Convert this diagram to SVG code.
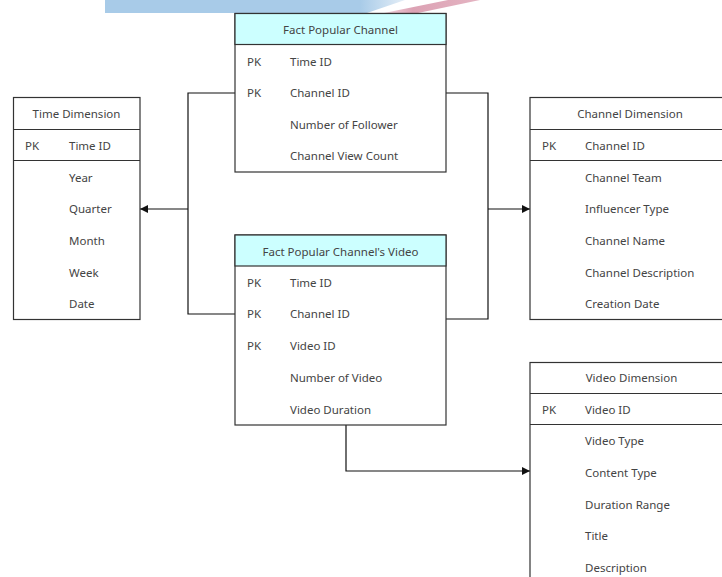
<svg xmlns="http://www.w3.org/2000/svg" width="722" height="577" viewBox="0 0 722 577">
<defs>
<style>
.box{fill:#fff;stroke:#333;stroke-width:1.2}
.hdr{fill:#ccffff;stroke:#333;stroke-width:1.2}
.ln{stroke:#333;stroke-width:1.2;fill:none}
text{font-family:"Noto Sans","DejaVu Sans",sans-serif;font-size:11.5px;fill:#444}
.c{text-anchor:middle}
.con{stroke:#111;stroke-width:1.2;fill:none}
</style>
<marker id="arr" viewBox="0 0 10 10" refX="10" refY="5" markerWidth="8" markerHeight="8" markerUnits="userSpaceOnUse" orient="auto">
<path d="M0,0 L10,5 L0,10 z" fill="#111"/>
</marker>
<linearGradient id="bg" x1="0" y1="0" x2="1" y2="0">
<stop offset="0" stop-color="#a8cbe8"/>
<stop offset="0.85" stop-color="#a8cbe8"/>
<stop offset="1" stop-color="#e4eef7"/>
</linearGradient>
<linearGradient id="pg" x1="0" y1="0" x2="1" y2="0">
<stop offset="0" stop-color="#f2d6df"/>
<stop offset="0.3" stop-color="#dca2b4"/>
<stop offset="1" stop-color="#e4b4c2"/>
</linearGradient>
</defs>
<g id="banner">
<polygon points="105,0 405,0 367,13 105,13" fill="url(#bg)"/>
<polygon points="448,0 480,0 418,13 384,13" fill="url(#pg)"/>
</g>
<g id="connectors">
<polyline class="con" points="235,93 188,93 188,314 235,314"/>
<line class="con" x1="188" y1="209" x2="140" y2="209" marker-end="url(#arr)"/>
<polyline class="con" points="446,93 488,93 488,319 446,319"/>
<line class="con" x1="488" y1="209" x2="530" y2="209" marker-end="url(#arr)"/>
<polyline class="con" points="346,425 346,471 530,471" marker-end="url(#arr)"/>
</g>
<g id="fact-popular-channel">
<rect class="box" x="235" y="13.5" width="211" height="158.5"/>
<rect class="hdr" x="235" y="13.5" width="211" height="31"/>
<text class="c" x="340.5" y="33.5">Fact Popular Channel</text>
<text x="247" y="65.5">PK</text><text x="290" y="65.5">Time ID</text>
<text x="247" y="97">PK</text><text x="290" y="97">Channel ID</text>
<text x="290" y="128.5">Number of Follower</text>
<text x="290" y="160">Channel View Count</text>
</g>
<g id="time-dimension">
<rect class="box" x="13.5" y="97.5" width="126.5" height="222"/>
<line class="ln" x1="13.5" y1="129.5" x2="140" y2="129.5"/>
<line class="ln" x1="13.5" y1="160.5" x2="140" y2="160.5"/>
<text class="c" x="76.5" y="118">Time Dimension</text>
<text x="25" y="149.5">PK</text><text x="69" y="149.5">Time ID</text>
<text x="69" y="181.5">Year</text>
<text x="69" y="213">Quarter</text>
<text x="69" y="245">Month</text>
<text x="69" y="276.5">Week</text>
<text x="69" y="308">Date</text>
</g>
<g id="channel-dimension">
<rect class="box" x="530" y="97.5" width="200" height="222"/>
<line class="ln" x1="530" y1="129.5" x2="722" y2="129.5"/>
<line class="ln" x1="530" y1="160.5" x2="722" y2="160.5"/>
<text class="c" x="630" y="118">Channel Dimension</text>
<text x="542" y="149.5">PK</text><text x="585" y="149.5">Channel ID</text>
<text x="585" y="181.5">Channel Team</text>
<text x="585" y="213">Influencer Type</text>
<text x="585" y="245">Channel Name</text>
<text x="585" y="276.5">Channel Description</text>
<text x="585" y="308">Creation Date</text>
</g>
<g id="fact-popular-channels-video">
<rect class="box" x="235" y="235" width="211" height="190"/>
<rect class="hdr" x="235" y="235" width="211" height="31"/>
<text class="c" x="340.5" y="255.5">Fact Popular Channel's Video</text>
<text x="247" y="286.5">PK</text><text x="290" y="286.5">Time ID</text>
<text x="247" y="318">PK</text><text x="290" y="318">Channel ID</text>
<text x="247" y="350">PK</text><text x="290" y="350">Video ID</text>
<text x="290" y="382">Number of Video</text>
<text x="290" y="413.5">Video Duration</text>
</g>
<g id="video-dimension">
<rect class="box" x="530" y="362.5" width="200" height="230"/>
<line class="ln" x1="530" y1="393.5" x2="722" y2="393.5"/>
<line class="ln" x1="530" y1="424.5" x2="722" y2="424.5"/>
<text class="c" x="631.5" y="382">Video Dimension</text>
<text x="542" y="413.5">PK</text><text x="585" y="413.5">Video ID</text>
<text x="585" y="445">Video Type</text>
<text x="585" y="477">Content Type</text>
<text x="585" y="509">Duration Range</text>
<text x="585" y="540">Title</text>
<text x="585" y="572">Description</text>
</g>
</svg>
